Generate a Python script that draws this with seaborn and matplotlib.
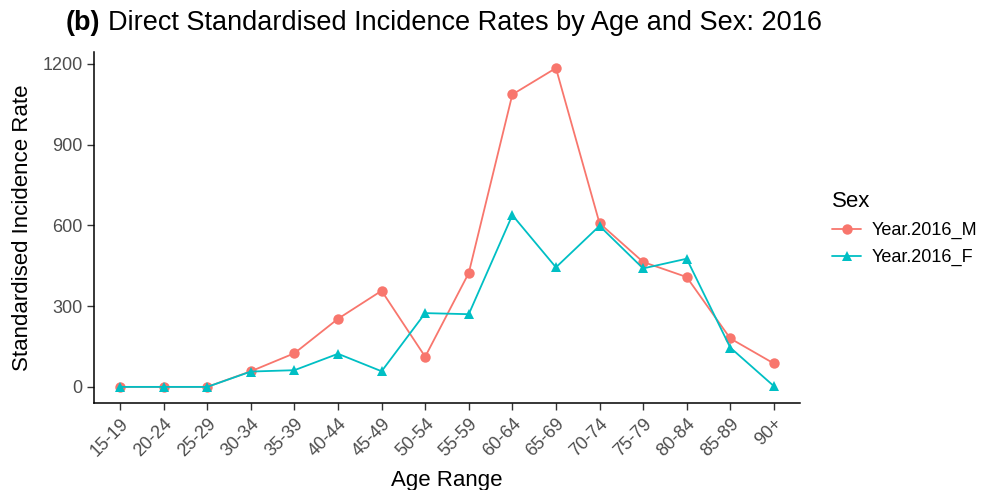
import matplotlib
matplotlib.use("Agg")
import matplotlib.pyplot as plt
import seaborn as sns
import pandas as pd

age_ranges = ["15-19", "20-24", "25-29", "30-34", "35-39", "40-44", "45-49",
              "50-54", "55-59", "60-64", "65-69", "70-74", "75-79", "80-84",
              "85-89", "90+"]
male_rates = [0, 0, 0, 58, 125, 253, 357, 112, 423, 1086, 1184, 608, 464, 408, 180, 87]
female_rates = [0, 0, 0, 57, 62, 123, 58, 274, 270, 638, 444, 598, 440, 476, 146, 3]
series_names = ["Year.2016_M", "Year.2016_F"]
y_ticks = [0, 300, 600, 900, 1200]

df = pd.DataFrame({
    "Age": age_ranges * 2,
    "Rate": male_rates + female_rates,
    "Sex": [series_names[0]] * len(age_ranges) + [series_names[1]] * len(age_ranges),
})

sns.set_theme(style="white")
plt.rcParams["font.family"] = ["Liberation Sans", "DejaVu Sans"]
plt.rcParams["text.color"] = "black"

fig = plt.figure(figsize=(9.88, 4.9), dpi=100)
ax = fig.add_axes([0.0951, 0.178, 0.7146, 0.716])

palette = {series_names[0]: "#F8766D", series_names[1]: "#00BFC4"}
sns.lineplot(data=df, x="Age", y="Rate", hue="Sex", style="Sex",
             palette=palette, markers={series_names[0]: "o", series_names[1]: "^"},
             dashes=False, markersize=7.5, markeredgewidth=0, linewidth=1.3,
             sort=False, ax=ax)

ax.set_xlim(-0.6, len(age_ranges) - 1 + 0.6)
ax.set_ylim(-59, 1244)
ax.set_yticks(y_ticks)
ax.set_xticks(range(len(age_ranges)))
ax.set_xticklabels(age_ranges, rotation=45, ha="right", rotation_mode="anchor")

for side in ("top", "right"):
    ax.spines[side].set_visible(False)
for side in ("left", "bottom"):
    ax.spines[side].set_color("black")
    ax.spines[side].set_linewidth(1.1)

ax.tick_params(axis="both", which="major", length=5, width=1, color="#333333",
               labelsize=13, labelcolor="#4d4d4d", bottom=True, left=True, pad=3)
ax.tick_params(axis="x", pad=4)

ax.set_xlabel("Age Range", fontsize=16, color="black", labelpad=7)
ax.set_ylabel("Standardised Incidence Rate", fontsize=16, color="black", labelpad=7)

# Title with bold panel letter
fig.text(0.066, 0.953, "(b)", fontsize=19.5, fontweight="bold", color="black",
         ha="left", va="center")
fig.text(0.109, 0.953, "Direct Standardised Incidence Rates by Age and Sex: 2016",
         fontsize=19.5, color="black", ha="left", va="center")

leg = ax.legend(title="Sex", loc="upper left", bbox_to_anchor=(0.835, 0.625),
                bbox_transform=fig.transFigure, frameon=False, fontsize=13,
                title_fontsize=16, handlelength=1.6, handletextpad=0.6,
                labelspacing=0.55, alignment="left", borderaxespad=0)
for t in leg.get_texts():
    t.set_color("black")

fig.savefig("out.png", dpi=100)
